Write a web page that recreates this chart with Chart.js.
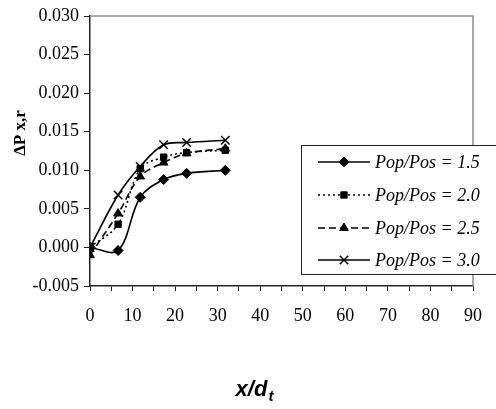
<!DOCTYPE html>
<html><head><meta charset="utf-8">
<script src="https://cdn.jsdelivr.net/npm/chart.js@4/dist/chart.umd.min.js"></script>
<style>html,body{margin:0;padding:0;background:#fff}#wrap{width:496px;height:409px;position:relative}</style>
</head><body><div id="wrap"><canvas id="c" width="496" height="409"></canvas></div>
<script>
const xValues = [0, 6.6, 11.8, 17.3, 22.7, 31.8];
const pop15 = [0.0000, -0.0004, 0.0065, 0.0088, 0.0096, 0.0100];
const pop20 = [0.0000, 0.0030, 0.0102, 0.0117, 0.0123, 0.0126];
const pop25 = [-0.0010, 0.0044, 0.0092, 0.0110, 0.0122, 0.0128];
const pop30 = [0.0000, 0.0068, 0.0105, 0.0133, 0.0136, 0.0139];
const seriesLabels = ['Pop/Pos = 1.5', 'Pop/Pos = 2.0', 'Pop/Pos = 2.5', 'Pop/Pos = 3.0'];
const xTitle = 'x/d';
const xTitleSub = 't';
const yTitle = 'ΔP x,r';

const toPts = arr => arr.map((v, i) => ({x: xValues[i], y: v}));
const serif = '"Liberation Serif", "Times New Roman", serif';

const mk = (label, data, style, dash, radius) => ({
  label, data: toPts(data), borderColor: '#000', backgroundColor: '#000',
  borderWidth: 1.6, borderDash: dash, pointStyle: style, pointRadius: radius,
  pointBorderColor: '#000', pointBackgroundColor: '#000', pointBorderWidth: style === 'crossRot' ? 1.5 : 1,
  tension: 0.35, fill: false
});

const datasets = [
  mk(seriesLabels[0], pop15, 'rectRot', [], 5),
  mk(seriesLabels[1], pop20, 'rect', [2, 3], 4.5),
  mk(seriesLabels[2], pop25, 'triangle', [7, 4], 5),
  mk(seriesLabels[3], pop30, 'crossRot', [], 6)
];

const decor = {
  id: 'decor',
  beforeDatasetsDraw(chart) {
    const {ctx, chartArea: a} = chart;
    ctx.save();
    ctx.strokeStyle = '#8a8a8a'; ctx.lineWidth = 1.5;
    ctx.beginPath();
    ctx.moveTo(a.left, a.top); ctx.lineTo(a.right, a.top); ctx.lineTo(a.right, a.bottom);
    ctx.stroke();
    ctx.restore();
  },
  afterDraw(chart) {
    const {ctx} = chart;
    ctx.save();
    // legend box
    const lx = 301, ly = 145, lw = 210, lh = 129;
    ctx.fillStyle = '#fff';
    ctx.fillRect(lx, ly, lw, lh);
    ctx.strokeStyle = '#222'; ctx.lineWidth = 1;
    ctx.strokeRect(lx + 0.5, ly + 0.5, lw, lh);
    const rows = [162, 195, 228, 260];
    chart.data.datasets.forEach((ds, i) => {
      const y = rows[i];
      ctx.save();
      ctx.strokeStyle = '#000'; ctx.fillStyle = '#000'; ctx.lineWidth = ds.borderWidth;
      ctx.setLineDash(ds.borderDash || []);
      ctx.beginPath(); ctx.moveTo(318, y); ctx.lineTo(370, y); ctx.stroke();
      ctx.setLineDash([]);
      ctx.lineWidth = ds.pointBorderWidth;
      Chart.helpers.drawPoint(ctx, {pointStyle: ds.pointStyle, radius: ds.pointRadius, borderWidth: ds.pointBorderWidth, rotation: 0}, 344, y);
      ctx.restore();
      ctx.fillStyle = '#000';
      ctx.font = 'italic 18px ' + serif;
      ctx.textBaseline = 'middle'; ctx.textAlign = 'left';
      ctx.fillText(ds.label, 375, y + 1);
    });
    // x title
    const big = 'italic bold 22px "Liberation Sans", Arial, sans-serif';
    const small = 'italic bold 15px "Liberation Sans", Arial, sans-serif';
    ctx.fillStyle = '#000';
    ctx.textBaseline = 'alphabetic'; ctx.textAlign = 'left';
    ctx.font = big;
    const w = ctx.measureText(xTitle).width;
    ctx.font = small;
    const ws = ctx.measureText(xTitleSub).width;
    const x0 = 254 - (w + ws) / 2;
    ctx.font = big;
    ctx.fillText(xTitle, x0, 396);
    ctx.font = small;
    ctx.fillText(xTitleSub, x0 + w + 1, 401);
    // y title
    ctx.save();
    ctx.translate(21, 133);
    ctx.rotate(-Math.PI / 2);
    ctx.font = 'bold 17px ' + serif;
    ctx.textAlign = 'center'; ctx.textBaseline = 'middle';
    ctx.fillText(yTitle, 0, 0);
    ctx.restore();
    ctx.restore();
  }
};

new Chart(document.getElementById('c'), {
  type: 'line',
  data: {datasets},
  options: {
    responsive: false, animation: false, devicePixelRatio: 1,
    layout: {padding: {left: 0, top: 16, right: 23, bottom: 0}},
    plugins: {legend: {display: false}, tooltip: {enabled: false}},
    scales: {
      x: {
        type: 'linear', min: 0, max: 90,
        afterFit(s) { s.height = 123; },
        border: {color: '#222', width: 1.5},
        grid: {drawOnChartArea: false, drawTicks: true, tickLength: 5, color: '#222', lineWidth: 1},
        ticks: {stepSize: 5, color: '#000', font: {family: serif, size: 18}, padding: 14, maxRotation: 0, autoSkip: false,
          callback: v => (Math.round(v) % 10 === 0 ? String(Math.round(v)) : '')}
      },
      y: {
        min: -0.005, max: 0.030,
        afterFit(s) { s.width = 90; },
        border: {color: '#222', width: 1.5},
        grid: {drawOnChartArea: false, drawTicks: true, tickLength: 6, color: '#222', lineWidth: 1},
        ticks: {stepSize: 0.005, color: '#000', font: {family: serif, size: 18}, padding: 5,
          callback: v => { const r = Math.round(v * 1000) / 1000; return (r === 0 ? 0 : r).toFixed(3); }}
      }
    }
  },
  plugins: [decor]
});
</script></body></html>
